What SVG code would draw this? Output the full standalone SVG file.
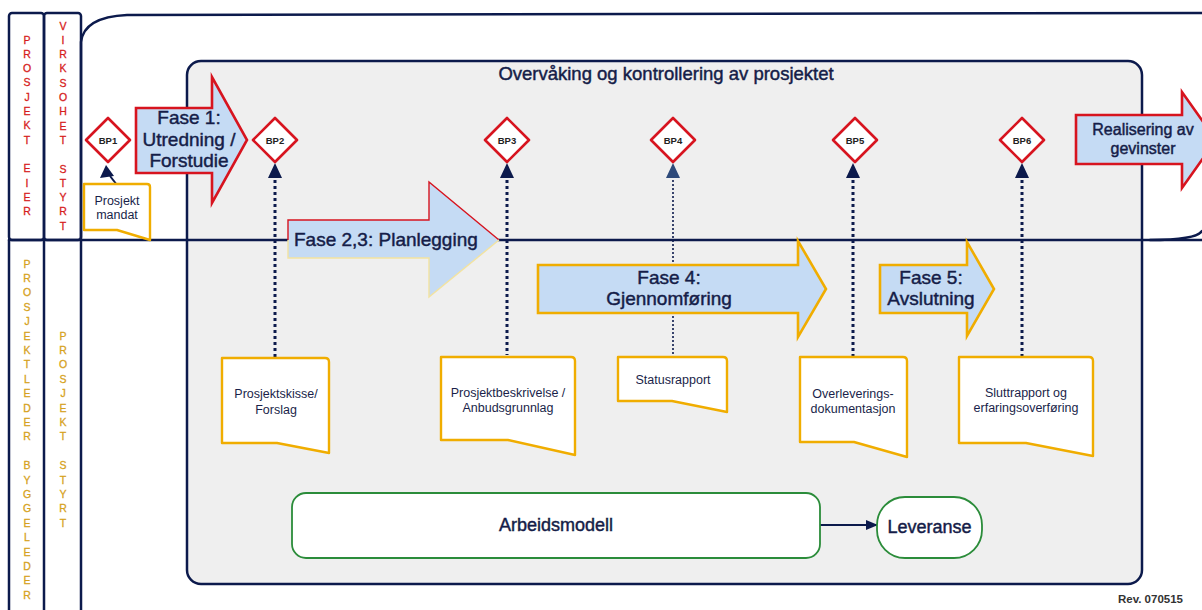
<svg xmlns="http://www.w3.org/2000/svg" width="1202" height="610" viewBox="0 0 1202 610">
<defs>
<style>
.t{font-family:"Liberation Sans",Arial,sans-serif;fill:#151d48}
.h{stroke:#151d48;stroke-width:0.45}
.lane{fill:none;stroke:#0c1a4c;stroke-width:2.5;stroke-linecap:round;stroke-linejoin:round}
.lr{font-family:"Liberation Sans",Arial,sans-serif;font-size:10.5px;fill:#d61c1c;stroke:#d61c1c;stroke-width:0.3;text-anchor:middle}
.lg{font-family:"Liberation Sans",Arial,sans-serif;font-size:10.5px;fill:#d6a21d;stroke:#d6a21d;stroke-width:0.3;text-anchor:middle}
.dia{fill:#fff;stroke:#d7141f;stroke-width:2.6;stroke-linejoin:round}
.bp{font-family:"Liberation Sans",Arial,sans-serif;font-size:9.5px;font-weight:bold;fill:#222;text-anchor:middle}
.doc{fill:#fff;stroke:#f0ad00;stroke-width:2.4;stroke-linejoin:round}
.dt{font-family:"Liberation Sans",Arial,sans-serif;font-size:12.5px;fill:#1a1f4a;text-anchor:middle}
.ar{fill:#c5dbf4}
.arr{fill:#c5dbf4;stroke:#d7141f;stroke-width:2.6;stroke-linejoin:miter}
.ary{fill:#c5dbf4;stroke:#f0ad00;stroke-width:2.6;stroke-linejoin:miter}
.dot{fill:none;stroke:#0c1a4c;stroke-width:3;stroke-dasharray:3 3}
.tri{fill:#0c1a4c}
.grn{fill:#fff;stroke:#2b8c3a;stroke-width:1.8}
</style>
<marker id="ah" markerWidth="12" markerHeight="10" refX="11" refY="5" orient="auto" markerUnits="userSpaceOnUse">
<path d="M0,0 L12,5 L0,10 Z" fill="#0c1a4c"/>
</marker>
</defs>
<rect width="1202" height="610" fill="#fff"/>

<g id="lanes">
<rect class="lane" x="9" y="13" width="35" height="227" rx="3"/>
<rect class="lane" x="44" y="13" width="37" height="227" rx="3"/>
<path class="lane" d="M9,240 L9,610 M44,240 L44,610 M81,240 L81,610"/>
<path class="lane" d="M81,240 L81,42 Q84,17 127,15 L1202,13"/>
<text class="lr"><tspan x="27" y="43.5">P</tspan><tspan x="27" dy="14.3">R</tspan><tspan x="27" dy="14.3">O</tspan><tspan x="27" dy="14.3">S</tspan><tspan x="27" dy="14.3">J</tspan><tspan x="27" dy="14.3">E</tspan><tspan x="27" dy="14.3">K</tspan><tspan x="27" dy="14.3">T</tspan><tspan x="27" dy="28.6">E</tspan><tspan x="27" dy="14.3">I</tspan><tspan x="27" dy="14.3">E</tspan><tspan x="27" dy="14.3">R</tspan></text>
<text class="lr"><tspan x="63" y="29.5">V</tspan><tspan x="63" dy="14.3">I</tspan><tspan x="63" dy="14.3">R</tspan><tspan x="63" dy="14.3">K</tspan><tspan x="63" dy="14.3">S</tspan><tspan x="63" dy="14.3">O</tspan><tspan x="63" dy="14.3">H</tspan><tspan x="63" dy="14.3">E</tspan><tspan x="63" dy="14.3">T</tspan><tspan x="63" dy="28.6">S</tspan><tspan x="63" dy="14.3">T</tspan><tspan x="63" dy="14.3">Y</tspan><tspan x="63" dy="14.3">R</tspan><tspan x="63" dy="14.3">T</tspan></text>
<text class="lg"><tspan x="27" y="267.5">P</tspan><tspan x="27" dy="14.4">R</tspan><tspan x="27" dy="14.4">O</tspan><tspan x="27" dy="14.4">S</tspan><tspan x="27" dy="14.4">J</tspan><tspan x="27" dy="14.4">E</tspan><tspan x="27" dy="14.4">K</tspan><tspan x="27" dy="14.4">T</tspan><tspan x="27" dy="14.4">L</tspan><tspan x="27" dy="14.4">E</tspan><tspan x="27" dy="14.4">D</tspan><tspan x="27" dy="14.4">E</tspan><tspan x="27" dy="14.4">R</tspan><tspan x="27" dy="28.8">B</tspan><tspan x="27" dy="14.4">Y</tspan><tspan x="27" dy="14.4">G</tspan><tspan x="27" dy="14.4">G</tspan><tspan x="27" dy="14.4">E</tspan><tspan x="27" dy="14.4">L</tspan><tspan x="27" dy="14.4">E</tspan><tspan x="27" dy="14.4">D</tspan><tspan x="27" dy="14.4">E</tspan><tspan x="27" dy="14.4">R</tspan></text>
<text class="lg"><tspan x="63" y="339.5">P</tspan><tspan x="63" dy="14.4">R</tspan><tspan x="63" dy="14.4">O</tspan><tspan x="63" dy="14.4">S</tspan><tspan x="63" dy="14.4">J</tspan><tspan x="63" dy="14.4">E</tspan><tspan x="63" dy="14.4">K</tspan><tspan x="63" dy="14.4">T</tspan><tspan x="63" dy="28.8">S</tspan><tspan x="63" dy="14.4">T</tspan><tspan x="63" dy="14.4">Y</tspan><tspan x="63" dy="14.4">R</tspan><tspan x="63" dy="14.4">T</tspan></text>
</g>

<g id="monitoring">
<rect x="187" y="61" width="955" height="523" rx="14" fill="#efefef" stroke="#0c1a4c" stroke-width="2.5"/>
<text class="t h" x="666" y="80" font-size="18.5" text-anchor="middle">Overvåking og kontrollering av prosjektet</text>
</g>

<g id="divider">
<path class="lane" d="M9,240 L1202,240"/>
<path class="lane" d="M1150,240 Q1196,240 1202,231"/>
</g>

<g id="connectors">
<path class="dot" d="M275,180 L275,357"/>
<path class="dot" d="M507,180 L507,355"/>
<path d="M673,180 L673,357" fill="none" stroke="#0c1a4c" stroke-width="1.6" stroke-dasharray="2 2"/>
<path class="dot" d="M853,180 L853,357"/>
<path class="dot" d="M1022,180 L1022,357"/>
<polygon class="tri" points="275,163 282,178 268,178"/>
<polygon class="tri" points="507,163 514,178 500,178"/>
<polygon points="673,163 680,178 666,178" fill="#2e4a7a"/>
<polygon class="tri" points="853,163 860,178 846,178"/>
<polygon class="tri" points="1022,163 1029,178 1015,178"/>
<polygon class="tri" points="106,165 100,178 114,176"/>
<path d="M110,176 L117,185" stroke="#0c1a4c" stroke-width="2" fill="none"/>
<path d="M820,525 L877,525" stroke="#0c1a4c" stroke-width="2" fill="none" marker-end="url(#ah)"/>
</g>

<g id="fase1">
<path class="arr" d="M136,108 L212,108 L212,77 L247,140 L212,203 L212,173 L136,173 Z"/>
<text class="t h" font-size="19" text-anchor="middle"><tspan x="189" y="124">Fase 1:</tspan><tspan x="189" y="145.5">Utredning /</tspan><tspan x="189" y="167">Forstudie</tspan></text>
</g>

<g id="fase23">
<path class="ar" d="M288,220 L429,220 L429,182 L499,240 L429,297 L429,258 L288,258 Z"/>
<path d="M288,240 L288,220 L429,220 L429,182 L499,240" fill="none" stroke="#d7141f" stroke-width="1.4"/>
<path d="M499,240 L429,297 L429,258 L288,258 L288,240" fill="none" stroke="#f3e3a0" stroke-width="1.4"/>
<text class="t h" x="294" y="246" font-size="19">Fase 2,3: Planlegging</text>
</g>

<g id="fase4">
<path class="ary" d="M538,265 L798,265 L798,241 L826,289 L798,337 L798,313 L538,313 Z"/>
<text class="t h" font-size="19" text-anchor="middle"><tspan x="669" y="284">Fase 4:</tspan><tspan x="669" y="305">Gjennomføring</tspan></text>
</g>

<g id="fase5">
<path class="ary" d="M880,265 L967,265 L967,242 L994,289 L967,336 L967,313 L880,313 Z"/>
<text class="t h" font-size="19" text-anchor="middle"><tspan x="931" y="284">Fase 5:</tspan><tspan x="931" y="305">Avslutning</tspan></text>
</g>

<g id="realisering">
<path class="arr" d="M1076,115 L1182,115 L1182,92 L1216,140 L1182,188 L1182,164 L1076,164 Z"/>
<text class="t h" font-size="16" text-anchor="middle"><tspan x="1143" y="135">Realisering av</tspan><tspan x="1143" y="154">gevinster</tspan></text>
</g>

<g id="bp1"><path class="dia" d="M108,118 L130,140 L108,162 L86,140 Z"/><text class="bp" x="108" y="143.5">BP1</text></g>
<g id="bp2"><path class="dia" d="M275,118 L297,140 L275,162 L253,140 Z"/><text class="bp" x="275" y="143.5">BP2</text></g>
<g id="bp3"><path class="dia" d="M507,118 L529,140 L507,162 L485,140 Z"/><text class="bp" x="507" y="143.5">BP3</text></g>
<g id="bp4"><path class="dia" d="M673,118 L695,140 L673,162 L651,140 Z"/><text class="bp" x="673" y="143.5">BP4</text></g>
<g id="bp5"><path class="dia" d="M855,118 L877,140 L855,162 L833,140 Z"/><text class="bp" x="855" y="143.5">BP5</text></g>
<g id="bp6"><path class="dia" d="M1022,118 L1044,140 L1022,162 L1000,140 Z"/><text class="bp" x="1022" y="143.5">BP6</text></g>

<g id="doc-mandat">
<path class="doc" d="M84,184 L147,184 Q150,184 150,187 L150,240 L117,230 L84,230 Z"/>
<text class="dt"><tspan x="117" y="205">Prosjekt</tspan><tspan x="117" y="219">mandat</tspan></text>
</g>
<g id="doc-skisse">
<path class="doc" d="M222,358 L325,358 Q329,358 329,362 L329,453 L277,443 L222,443 Z"/>
<text class="dt"><tspan x="276" y="398">Prosjektskisse/</tspan><tspan x="276" y="414">Forslag</tspan></text>
</g>
<g id="doc-beskrivelse">
<path class="doc" d="M441,357 L571,357 Q575,357 575,361 L575,455 L508,440 L441,440 Z"/>
<text class="dt"><tspan x="508" y="397">Prosjektbeskrivelse /</tspan><tspan x="508" y="412">Anbudsgrunnlag</tspan></text>
</g>
<g id="doc-status">
<path class="doc" d="M618,357 L723,357 Q727,357 727,361 L727,412 L672,401 L618,401 Z"/>
<text class="dt" x="673" y="384">Statusrapport</text>
</g>
<g id="doc-overlevering">
<path class="doc" d="M800,357 L903,357 Q907,357 907,361 L907,457 L854,442 L800,442 Z"/>
<text class="dt"><tspan x="853" y="398">Overleverings-</tspan><tspan x="853" y="413">dokumentasjon</tspan></text>
</g>
<g id="doc-slutt">
<path class="doc" d="M959,357 L1089,357 Q1093,357 1093,361 L1093,456 L1026,443 L959,443 Z"/>
<text class="dt"><tspan x="1026" y="397">Sluttrapport og</tspan><tspan x="1026" y="412">erfaringsoverføring</tspan></text>
</g>

<g id="arbeidsmodell">
<rect class="grn" x="292" y="493" width="528" height="65" rx="14"/>
<text class="t h" x="556" y="531" font-size="18" text-anchor="middle">Arbeidsmodell</text>
</g>
<g id="leveranse">
<rect class="grn" x="877" y="497" width="105" height="61" rx="28"/>
<text class="t h" x="929.5" y="533" font-size="18" text-anchor="middle">Leveranse</text>
</g>

<text x="1183" y="603" font-family="Liberation Sans,Arial,sans-serif" font-size="11.5" font-weight="bold" fill="#333" text-anchor="end">Rev. 070515</text>
</svg>
